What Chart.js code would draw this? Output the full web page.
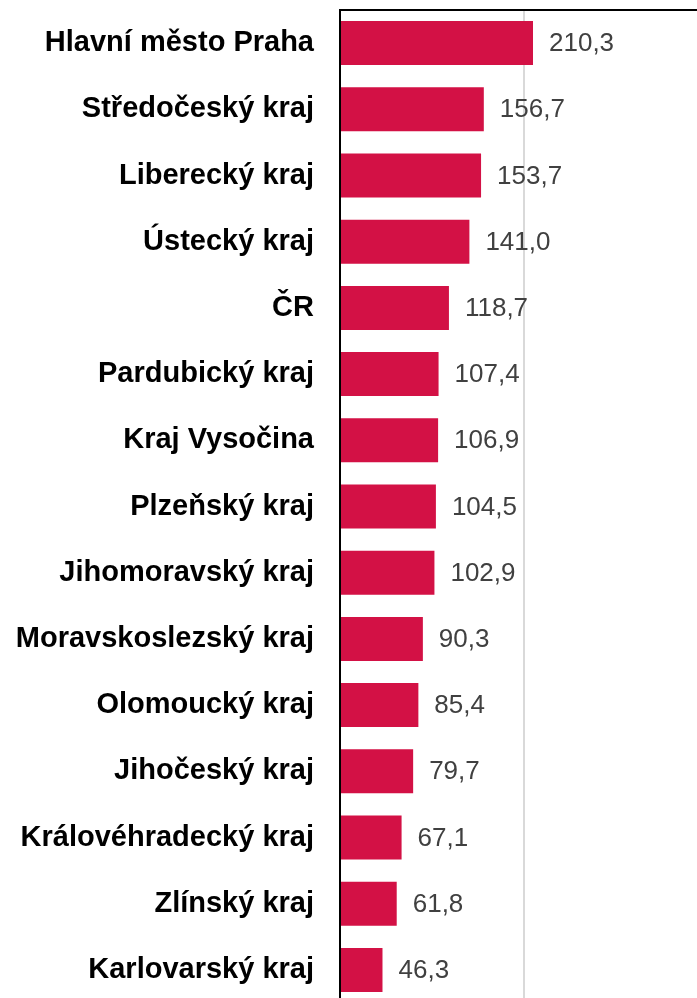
<!DOCTYPE html>
<html>
<head>
<meta charset="utf-8">
<script src="https://cdn.jsdelivr.net/npm/chart.js@4"></script>
<style>
  html, body { margin: 0; padding: 0; background: #fff; overflow: hidden; }
  #wrap { position: relative; width: 697px; height: 1003px; }
</style>
</head>
<body>
<div id="wrap"><canvas id="myChart"></canvas></div>
<script>
const kraje = [
  "Hlavní město Praha", "Středočeský kraj", "Liberecký kraj", "Ústecký kraj", "ČR",
  "Pardubický kraj", "Kraj Vysočina", "Plzeňský kraj", "Jihomoravský kraj",
  "Moravskoslezský kraj", "Olomoucký kraj", "Jihočeský kraj", "Královéhradecký kraj",
  "Zlínský kraj", "Karlovarský kraj"
];
const hodnoty = [210.3, 156.7, 153.7, 141.0, 118.7, 107.4, 106.9, 104.5, 102.9, 90.3, 85.4, 79.7, 67.1, 61.8, 46.3];
const mrizka = [0, 200];

// popisky hodnot za sloupci
const popisky = {
  id: 'popisky',
  afterDatasetsDraw(chart) {
    const ctx = chart.ctx;
    const meta = chart.getDatasetMeta(0);
    ctx.save();
    ctx.font = '26px "Liberation Sans", Arial, sans-serif';
    ctx.fillStyle = '#404040';
    ctx.textAlign = 'left';
    ctx.textBaseline = 'middle';
    meta.data.forEach((bar, i) => {
      ctx.fillText(hodnoty[i].toFixed(1).replace('.', ','), bar.x + 16, bar.y + 1);
    });
    ctx.restore();
  }
};

var ctx = document.getElementById('myChart').getContext('2d');
var chart = new Chart(ctx, {
  type: 'bar',
  data: {
    labels: kraje,
    datasets: [{
      data: hodnoty,
      backgroundColor: '#d31145',
      borderWidth: 0,
      categoryPercentage: 1,
      barPercentage: 0.665
    }]
  },
  options: {
    indexAxis: 'y',
    responsive: true,
    maintainAspectRatio: false,
    animation: false,
    layout: { padding: { top: 10, right: 0, bottom: 0, left: 0 } },
    plugins: { legend: { display: false }, tooltip: { enabled: false } },
    scales: {
      x: {
        position: 'top',
        min: 0,
        max: 389,
        afterBuildTicks: (s) => { s.ticks = mrizka.map(v => ({ value: v })); },
        afterFit: (s) => { s.height = 0; s.paddingLeft = 0; s.paddingRight = 0; },
        ticks: { display: false },
        grid: {
          drawTicks: false,
          lineWidth: 2,
          color: (c) => c.tick && c.tick.value === 200 ? '#d9d9d9' : 'rgba(0,0,0,0)'
        },
        border: { display: true, color: '#000', width: 2 }
      },
      y: {
        afterFit: (s) => { s.width = 340; s.paddingTop = 0; s.paddingBottom = 0; },
        ticks: {
          color: '#000',
          padding: 26,
          font: { family: '"Liberation Sans", Arial, sans-serif', size: 29, weight: 'bold' }
        },
        grid: { display: false, drawTicks: false },
        border: { display: true, color: '#000', width: 2 }
      }
    }
  },
  plugins: [popisky]
});
</script>
</body>
</html>
